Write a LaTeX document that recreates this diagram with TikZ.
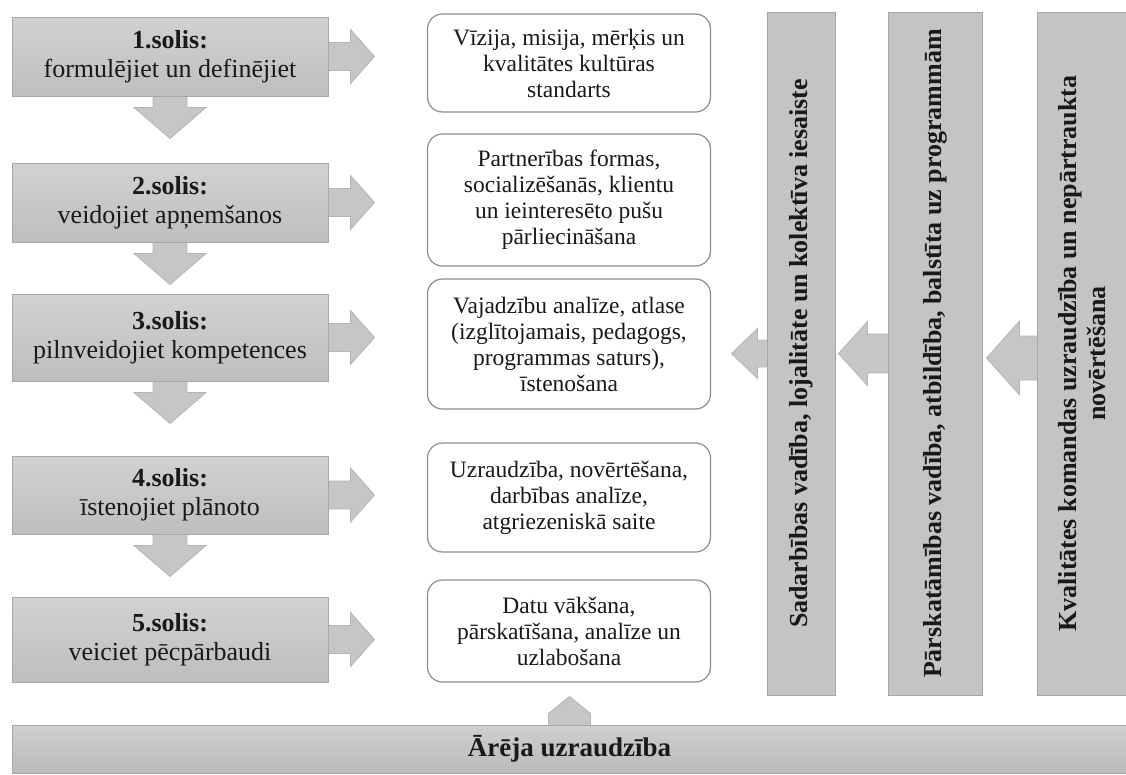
\documentclass[tikz,border=0pt]{standalone}
\usepackage{fontspec}
\setmainfont{Liberation Serif}
\usetikzlibrary{backgrounds}

\definecolor{steptop}{HTML}{D2D2D2}
\definecolor{stepbot}{HTML}{BEBEBE}
\definecolor{stepline}{HTML}{A8A8A8}
\definecolor{barfill}{HTML}{C4C4C4}
\definecolor{barline}{HTML}{A6A6A6}
\definecolor{arrfill}{HTML}{C6C6C6}
\definecolor{arrline}{HTML}{B4B4B4}
\definecolor{boxline}{HTML}{8E8E8E}

\tikzset{
  stepbox/.style={draw=stepline, top color=steptop, bottom color=stepbot, line width=1pt,
    minimum width=316, align=center, text=black!90, font=\fontsize{26}{29}\selectfont},
  infobox/.style={draw=boxline, fill=white, rounded corners=15, line width=1.2pt,
    minimum width=283, align=center, text=black!90, font=\fontsize{23.5}{26}\selectfont},
  sidebar/.style={draw=barline, fill=barfill, line width=1pt, minimum height=683},
  bartext/.style={rotate=90, align=center, text=black!90, font=\bfseries\fontsize{26}{29}\selectfont},
  basebar/.style={draw=barline, top color=steptop!80!barfill, bottom color=barfill!95!black, line width=1pt,
    text=black!90, font=\bfseries\fontsize{27}{30}\selectfont},
  blockarr/.style={draw=arrline, fill=arrfill, line width=0.8pt}
}

\begin{document}
\begin{tikzpicture}[x=1pt, y=-1pt]
        \useasboundingbox (0,0) rectangle (1126,774);
        %%%%%%%%%%%%%%%%%%%%%%%% Soli %%%%%%%%%%%%%%%%%%%%%%%%%%%%%%%%%%%
        \node[stepbox, minimum height=79] (s1) at (170,56.5) {\textbf{1.solis:}\\formulējiet un definējiet};
        \node[stepbox, minimum height=79] (s2) at (170,202.5) {\textbf{2.solis:}\\veidojiet apņemšanos};
        \node[stepbox, minimum height=87] (s3) at (170,337.5) {\textbf{3.solis:}\\pilnveidojiet kompetences};
        \node[stepbox, minimum height=78] (s4) at (170,495) {\textbf{4.solis:}\\īstenojiet plānoto};
        \node[stepbox, minimum height=85] (s5) at (170,639.5) {\textbf{5.solis:}\\veiciet pēcpārbaudi};
        %%%%%%%%%%%%%%%%%%%%%%%% Saturs %%%%%%%%%%%%%%%%%%%%%%%%%%%%%%%%%
        \node[infobox, minimum height=98] (b1) at (569,63) {Vīzija, misija, mērķis un\\kvalitātes kultūras\\standarts};
        \node[infobox, minimum height=132] (b2) at (569,200) {Partnerības formas,\\socializēšanās, klientu\\un ieinteresēto pušu\\pārliecināšana};
        \node[infobox, minimum height=130] (b3) at (569,344) {Vajadzību analīze, atlase\\(izglītojamais, pedagogs,\\programmas saturs),\\īstenošana};
        \node[infobox, minimum height=109] (b4) at (569,497.5) {Uzraudzība, novērtēšana,\\darbības analīze,\\atgriezeniskā saite};
        \node[infobox, minimum height=102] (b5) at (569,631) {Datu vākšana,\\pārskatīšana, analīze un\\uzlabošana};
        %%%%%%%%%%%%%%%%%%%%%%%% Vadība %%%%%%%%%%%%%%%%%%%%%%%%%%%%%%%%%
        \node[sidebar, minimum width=68] (v1) at (801,353.5) {};
        \node[sidebar, minimum width=94] (v2) at (935,353.5) {};
        \node[sidebar, minimum width=90] (v3) at (1082,353.5) {}; %labā mala ārpus lapas
        \node[bartext] (t1) at (v1) {Sadarbības vadība, lojalitāte un kolektīva iesaiste};
        \node[bartext] (t2) at (v2) {Pārskatāmības vadība, atbildība, balstīta uz programmām};
        \node[bartext] (t3) at (v3) {Kvalitātes komandas uzraudzība un nepārtraukta\\novērtēšana};
        %%%%%%%%%%%%%%%%%%%%%%%% Ārēja uzraudzība %%%%%%%%%%%%%%%%%%%%%%%
        \node[basebar, minimum width=1115, minimum height=48] (base) at (569.5,749) {Ārēja uzraudzība};
        %%%%%%%%%%%%%%%%%%%%%%%% Bultas %%%%%%%%%%%%%%%%%%%%%%%%%%%%%%%%%
        \begin{scope}[on background layer]
          \foreach \n in {1,...,5}
            \draw[blockarr] (s\n.east) ++(-2,-14) -- ++(24,0) -- ++(0,-13) -- ++(24,27) -- ++(-24,27) -- ++(0,-13) -- ++(-24,0) -- cycle;
          \foreach \n in {1,...,4}
            \draw[blockarr] (s\n.south) ++(-17,-2) -- ++(0,13) -- ++(-19,0) -- ++(36,31) -- ++(36,-31) -- ++(-19,0) -- ++(0,-13) -- cycle;
          \draw[blockarr] (v1.west) ++(1,-13.5) -- ++(-10,0) -- ++(0,-11.5) -- ++(-26,25) -- ++(26,25) -- ++(0,-11.5) -- ++(10,0) -- cycle;
          \draw[blockarr] (v2.west) ++(1,-19.5) -- ++(-21,0) -- ++(0,-12.5) -- ++(-29,32) -- ++(29,32) -- ++(0,-12.5) -- ++(21,0) -- cycle;
          \draw[blockarr] (v3.west) ++(1,-17.5) -- ++(-18,0) -- ++(0,-15) -- ++(-33,37) -- ++(33,37) -- ++(0,-15) -- ++(18,0) -- cycle;
          \draw[blockarr] (base.north) ++(-21,2) -- ++(0,-13) -- ++(21,-17) -- ++(21,17) -- ++(0,13) -- cycle; %uz b5
        \end{scope}
      \end{tikzpicture}
\end{document}
